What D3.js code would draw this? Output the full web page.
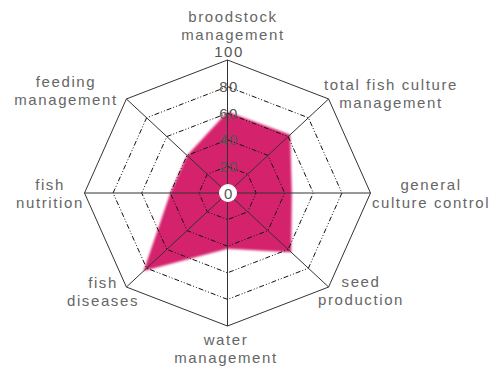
<!DOCTYPE html>
<html>
<head>
<meta charset="utf-8">
<script src="https://cdn.jsdelivr.net/npm/d3@7"></script>
<style>
  html, body { margin: 0; padding: 0; background: #fff; }
  svg { display: block; }
  text { font-family: "Liberation Sans", Arial, sans-serif; }
</style>
</head>
<body>
<svg id="chart" width="499" height="369"></svg>
<script>
// Axes of the radar, clockwise from the top
const categories = [
  ["broodstock", "management"],
  ["total fish culture", "management"],
  ["general", "culture control"],
  ["seed", "production"],
  ["water", "management"],
  ["fish", "diseases"],
  ["fish", "nutrition"],
  ["feeding", "management"]
];
// Score on each axis (0-100)
const scores = [61, 62, 45, 63, 42, 83, 40, 40];
// Ring levels and their tick labels
const ringLevels = [20, 40, 60, 80, 100];
const tickLabels = ["0", "20", "40", "60", "80", "100"];

// Layout
const cx = 227.5, cy = 193;
const rx = 143, ry = 133;
// Label anchor per axis: centre x and first-line baseline
const labelAnchor = [
  [233, 22], [391, 90], [431, 190], [361, 287],
  [226, 345], [103, 288], [50, 190], [66, 87]
];
const lineGap = 17.5;

const svg = d3.select("#chart");
const r = d3.scaleLinear().domain([0, 100]).range([0, 1]);
const angle = d3.scaleLinear().domain([0, categories.length]).range([0, 2 * Math.PI]);

const px = (i, v) => cx + rx * r(v) * Math.sin(angle(i));
const py = (i, v) => cy - ry * r(v) * Math.cos(angle(i));

const closedLine = d3.line().x(d => d[0]).y(d => d[1]).curve(d3.curveLinearClosed);

// Soft edge on the filled area
const defs = svg.append("defs");
defs.append("filter").attr("id", "soft")
  .attr("x", "-10%").attr("y", "-10%").attr("width", "120%").attr("height", "120%")
  .append("feGaussianBlur").attr("stdDeviation", 1.3);

// Filled series
svg.append("path")
  .attr("d", closedLine(scores.map((v, i) => [px(i, v), py(i, v)])))
  .attr("fill", "#d5246d")
  .attr("filter", "url(#soft)");

// Inner dash-dot rings
const grid = svg.append("g");
grid.selectAll("path.ring")
  .data(ringLevels.slice(0, -1))
  .join("path")
  .attr("class", "ring")
  .attr("d", lvl => closedLine(categories.map((c, i) => [px(i, lvl), py(i, lvl)])))
  .attr("fill", "none")
  .attr("stroke", "#111")
  .attr("stroke-width", 1)
  .attr("stroke-dasharray", "5,2,1,2,1,2");

// Spokes
grid.selectAll("line.spoke")
  .data(categories)
  .join("line")
  .attr("class", "spoke")
  .attr("x1", cx).attr("y1", cy)
  .attr("x2", (d, i) => px(i, 100))
  .attr("y2", (d, i) => py(i, 100))
  .attr("stroke", "#333")
  .attr("stroke-width", 1);

// Outer octagon
grid.append("path")
  .attr("d", closedLine(categories.map((c, i) => [px(i, 100), py(i, 100)])))
  .attr("fill", "none")
  .attr("stroke", "#333")
  .attr("stroke-width", 1);

// Tick labels along the top spoke
const ticks = svg.append("g")
  .attr("font-size", 15)
  .attr("fill", "#555")
  .attr("letter-spacing", 1.5)
  .attr("text-anchor", "middle");

ticks.append("circle")
  .attr("cx", cx + 0.5).attr("cy", cy)
  .attr("r", 9)
  .attr("fill", "#fff");

ticks.selectAll("text")
  .data(tickLabels)
  .join("text")
  .attr("x", cx + 1.5)
  .attr("y", (d, i) => {
    const v = i * 20;
    const y = py(0, v);
    return v === 100 ? y - 3 : y + 5.5;
  })
  .text(d => d);

// Category labels
const labels = svg.append("g")
  .attr("font-size", 15)
  .attr("fill", "#666")
  .attr("letter-spacing", 1.6)
  .attr("text-anchor", "middle");

labels.selectAll("text")
  .data(categories)
  .join("text")
  .each(function(lines, i) {
    const t = d3.select(this);
    lines.forEach((s, k) => {
      t.append("tspan")
        .attr("x", labelAnchor[i][0])
        .attr("y", labelAnchor[i][1] + k * lineGap)
        .text(s);
    });
  });
</script>
</body>
</html>
